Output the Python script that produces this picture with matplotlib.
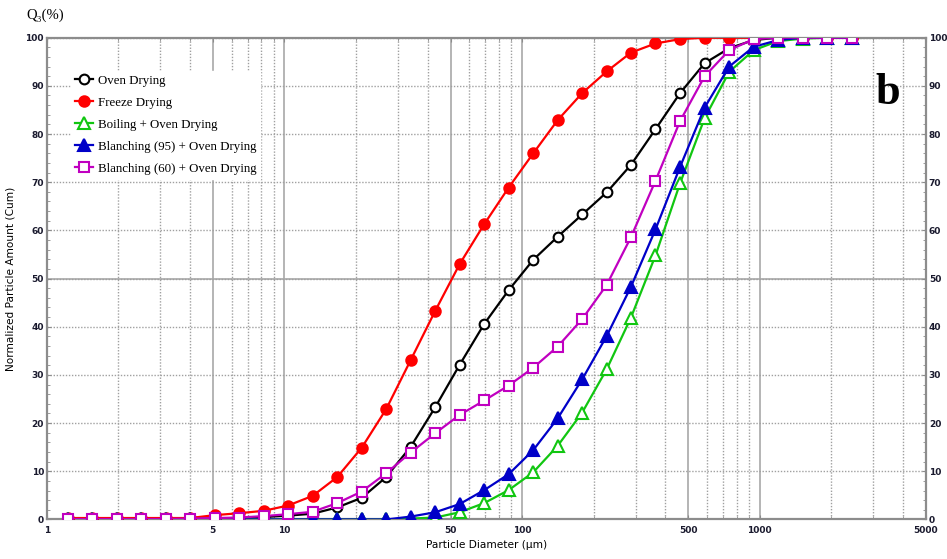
import matplotlib
matplotlib.use("Agg")
import matplotlib.pyplot as plt
from matplotlib.ticker import FixedLocator, NullFormatter, FixedFormatter

# particle diameters (µm) of the measured size classes
diameter = [1.224, 1.552, 1.968, 2.496, 3.165, 4.013, 5.09, 6.45, 8.18, 10.37,
            13.15, 16.68, 21.15, 26.8, 34.0, 43.1, 54.6, 69.3, 87.8, 111.4,
            141.2, 179.0, 227.0, 287.0, 364.0, 462.0, 586.0, 743.0, 942.0, 1194.0,
            1514.0, 1920.0, 2434.0]

oven = [0.2, 0.2, 0.2, 0.2, 0.2, 0.2, 0.2, 0.3, 0.5, 0.8,
        1.2, 2.5, 4.5, 8.8, 15.1, 23.3, 32.1, 40.6, 47.6, 53.9,
        58.7, 63.3, 67.9, 73.6, 81.0, 88.5, 94.7, 97.8, 99.5, 100.0,
        100.0, 100.0, 100.0]
freeze = [0.3, 0.3, 0.3, 0.3, 0.3, 0.3, 0.9, 1.3, 1.8, 2.9,
          4.9, 8.8, 14.9, 22.9, 33.1, 43.3, 53.0, 61.3, 68.9, 76.0,
          82.9, 88.5, 93.0, 96.9, 98.8, 99.7, 100.0, 100.0, 100.0, 100.0,
          100.0, 100.0, 100.0]
boiling = [0.0, 0.0, 0.0, 0.0, 0.0, 0.0, 0.0, 0.0, 0.0, 0.0,
           0.0, 0.0, 0.0, 0.0, 0.2, 0.4, 1.5, 3.4, 6.1, 9.8,
           15.3, 22.2, 31.2, 41.9, 54.8, 69.8, 83.3, 92.9, 97.4, 99.3,
           99.8, 100.0, 100.0]
blanch95 = [0.0, 0.0, 0.0, 0.0, 0.0, 0.0, 0.0, 0.0, 0.0, 0.0,
            0.0, 0.0, 0.0, 0.0, 0.6, 1.5, 3.2, 6.1, 9.4, 14.4,
            21.0, 29.1, 38.1, 48.3, 60.2, 73.2, 85.5, 94.0, 98.1, 99.5,
            100.0, 100.0, 100.0]
blanch60 = [0.1, 0.1, 0.1, 0.1, 0.1, 0.2, 0.3, 0.4, 0.7, 1.1,
            1.6, 3.4, 5.8, 9.6, 13.9, 17.9, 21.7, 24.7, 27.8, 31.5,
            35.9, 41.6, 48.7, 58.6, 70.3, 82.7, 92.0, 97.4, 99.7, 100.0,
            100.0, 100.0, 100.0]

labels = ["Oven Drying", "Freeze Drying", "Boiling + Oven Drying",
          "Blanching (95) + Oven Drying", "Blanching (60) + Oven Drying"]
x_major = [1, 5, 10, 50, 100, 500, 1000, 5000]
x_minor = [2, 3, 4, 6, 7, 8, 9, 20, 30, 40, 60, 70, 80, 90, 200, 300, 400,
           600, 700, 800, 900, 2000, 3000, 4000]
y_ticks = [0, 10, 20, 30, 40, 50, 60, 70, 80, 90, 100]
y_minor = [2, 4, 6, 8, 12, 14, 16, 18, 22, 24, 26, 28, 32, 34, 36, 38, 42, 44, 46, 48,
           52, 54, 56, 58, 62, 64, 66, 68, 72, 74, 76, 78, 82, 84, 86, 88, 92, 94, 96, 98]

fig = plt.figure(figsize=(9.47, 5.59), dpi=100)
ax = fig.add_axes([0.0493, 0.0707, 0.9285, 0.8619])

series = [
    (oven, dict(color="#000000", marker="o", mfc="white", mec="#000000", ms=7)),
    (freeze, dict(color="#ff0000", marker="o", mfc="#ff0000", mec="#ff0000", ms=7.5)),
    (boiling, dict(color="#11c611", marker="^", mfc="white", mec="#11c611", ms=8)),
    (blanch95, dict(color="#0000c8", marker="^", mfc="#0000c8", mec="#0000c8", ms=8)),
    (blanch60, dict(color="#c000c0", marker="s", mfc="white", mec="#c000c0", ms=7.5)),
]
handles = []
for (vals, st), lab in zip(series, labels):
    h, = ax.plot(diameter, vals, lw=1.6, mew=1.5, label=lab, zorder=3, **st)
    handles.append(h)

ax.set_xscale("log")
ax.set_xlim(1, 5000)
ax.set_ylim(0, 100)

ax.xaxis.set_major_locator(FixedLocator(x_major))
ax.xaxis.set_major_formatter(FixedFormatter([str(v) for v in x_major]))
ax.xaxis.set_minor_locator(FixedLocator(x_minor))
ax.xaxis.set_minor_formatter(NullFormatter())
ax.yaxis.set_major_locator(FixedLocator(y_ticks))
ax.yaxis.set_minor_locator(FixedLocator(y_minor))
ax.yaxis.set_minor_formatter(NullFormatter())

ax.grid(True, which="major", axis="x", color="#a8a8a8", lw=1.2, ls="-", zorder=0)
ax.grid(True, which="minor", axis="x", color="#a0a0a0", lw=1.0, ls=(0, (1, 1.2)), zorder=0)
ax.grid(True, which="major", axis="y", color="#a0a0a0", lw=1.0, ls=(0, (1, 1.2)), zorder=0)
ax.axhline(50, color="#a8a8a8", lw=1.2, zorder=0)

for s in ax.spines.values():
    s.set_color("#8c8c8c")
    s.set_linewidth(1.6)

ax.tick_params(axis="both", which="major", direction="in", length=3, color="#8c8c8c",
               labelsize=6.5, labelcolor="#1a1a2e")
ax.tick_params(axis="both", which="minor", direction="in", length=2, color="#8c8c8c")
ax.tick_params(axis="y", which="both", left=True, right=True, labelright=True, pad=2)
ax.tick_params(axis="x", which="both", top=True, pad=5)
for t in ax.get_xticklabels() + ax.get_yticklabels():
    t.set_fontweight("bold")

ax.set_xlabel("Particle Diameter (µm)", fontsize=7.6, labelpad=3)
ax.set_ylabel("Normalized Particle Amount (Cum)", fontsize=7.6)
ax.yaxis.set_label_coords(-0.036, 0.5)

fig.text(0.028, 0.972, "Q₃(%)", fontsize=10.5, family=["Liberation Serif", "DejaVu Serif"],
         va="center", ha="left")
ax.text(0.957, 0.885, "b", transform=ax.transAxes, fontsize=32, fontweight="bold",
        family="Liberation Serif", ha="center", va="center")

leg = ax.legend(handles=handles, loc="upper left", bbox_to_anchor=(0.02, 0.945),
                prop={"family": "Liberation Serif", "size": 9.3},
                handlelength=1.4, handletextpad=0.4, labelspacing=0.78,
                frameon=True, framealpha=1.0, edgecolor="white", facecolor="white",
                fancybox=False, borderpad=0.3)
leg.set_zorder(5)

fig.savefig("out.png", dpi=100)
